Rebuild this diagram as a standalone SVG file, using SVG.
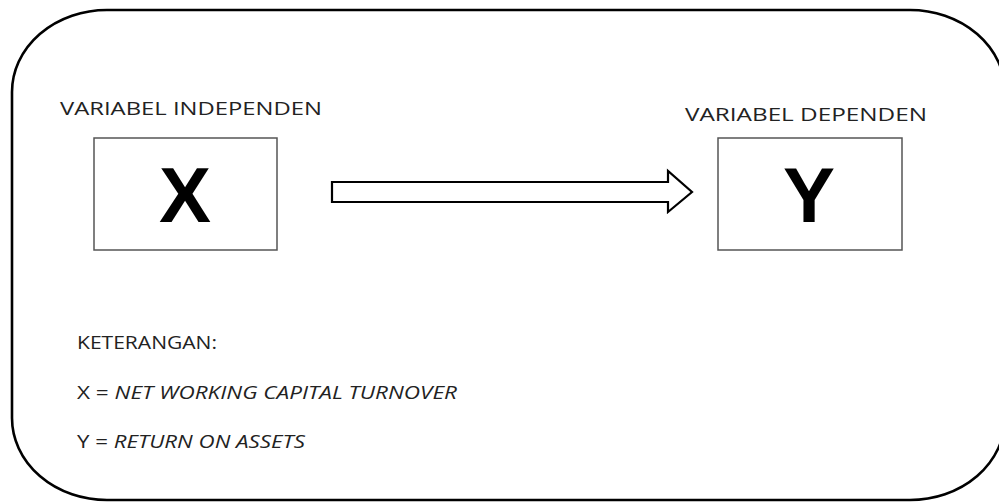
<svg xmlns="http://www.w3.org/2000/svg" width="999" height="503" viewBox="0 0 999 503">
  <style>
    .label { font-family: "Open Sans", "Liberation Sans", sans-serif; font-size: 18.5px; fill: #222; }
    .note { font-family: "Open Sans", "Liberation Sans", sans-serif; font-size: 18.5px; fill: #222; }
    .var { font-family: "Liberation Sans", Arial, sans-serif; font-size: 78px; font-weight: bold; fill: #000; text-anchor: middle; }
    .node-box { fill: #fff; stroke: #555; stroke-width: 1.5; }
  </style>
  <rect width="999" height="503" fill="#fff"/>

  <!-- outer frame -->
  <rect id="frame" x="12" y="10" width="993" height="490" rx="95" ry="82" fill="none" stroke="#000" stroke-width="2.6"/>

  <g id="node-x">
    <text class="label" x="60" y="115" textLength="262" lengthAdjust="spacingAndGlyphs">VARIABEL INDEPENDEN</text>
    <rect class="node-box" x="94" y="138" width="183" height="112"/>
    <text class="var" x="185" y="222">X</text>
  </g>

  <g id="node-y">
    <text class="label" x="685" y="121" textLength="242" lengthAdjust="spacingAndGlyphs">VARIABEL  DEPENDEN</text>
    <rect class="node-box" x="718" y="138" width="184" height="112"/>
    <text class="var" x="809" y="222">Y</text>
  </g>

  <g id="connectors">
    <path d="M332 182 H668 V171 L692 192 L668 212 V202 H332 Z" fill="#fff" stroke="#000" stroke-width="2.2" stroke-linejoin="miter"/>
  </g>

  <g id="legend">
    <text class="note" x="77" y="349" textLength="140" lengthAdjust="spacingAndGlyphs">KETERANGAN:</text>
    <text class="note" x="77" y="399" textLength="380" lengthAdjust="spacingAndGlyphs">X = <tspan font-style="italic">NET WORKING CAPITAL TURNOVER</tspan></text>
    <text class="note" x="77" y="448" textLength="228" lengthAdjust="spacingAndGlyphs">Y = <tspan font-style="italic">RETURN ON ASSETS</tspan></text>
  </g>
</svg>
